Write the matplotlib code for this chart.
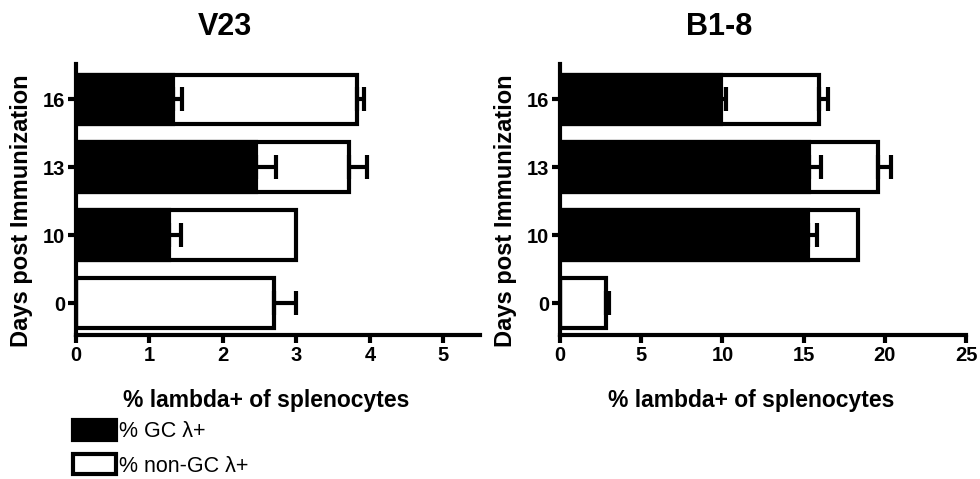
import matplotlib
matplotlib.use('Agg')
import matplotlib.pyplot as plt
from matplotlib.patches import Patch
import numpy as np

plt.rcParams['font.family'] = ['Liberation Sans', 'DejaVu Sans']

days = ['0', '10', '13', '16']

v23_gc = [0, 1.26, 2.45, 1.32]
v23_gc_err = [0, 0.17, 0.27, 0.12]
v23_total = [2.70, 3.00, 3.71, 3.82]
v23_total_err = [0.30, 0, 0.25, 0.10]

b18_gc = [0, 15.3, 15.35, 9.9]
b18_gc_err = [0, 0.5, 0.7, 0.35]
b18_total = [2.81, 18.37, 19.6, 15.97]
b18_total_err = [0.23, 0, 0.8, 0.53]

LW = 3.0


def panel(ax, gc, gc_err, total, total_err, xmax, xticks, title, title_x):
    y = np.arange(len(days))
    h = 0.73
    ax.barh(y, total, height=h, color='white', edgecolor='black', linewidth=LW, zorder=2)
    ax.barh(y, gc, height=h, color='black', edgecolor='black', linewidth=LW, zorder=3)
    for i in range(len(days)):
        if total_err[i] > 0:
            ax.errorbar(total[i], y[i], xerr=[[0], [total_err[i]]], fmt='none',
                        ecolor='black', elinewidth=LW, capsize=8.5, capthick=LW, zorder=4)
        if gc[i] > 0 and gc_err[i] > 0:
            ax.errorbar(gc[i], y[i], xerr=[[0], [gc_err[i]]], fmt='none',
                        ecolor='black', elinewidth=LW, capsize=8.5, capthick=LW, zorder=4)
    ax.set_xlim(0, xmax)
    ax.set_ylim(-0.47, 3.52)
    ax.set_xticks(xticks)
    ax.set_yticks(y)
    ax.set_yticklabels(days)
    for s in ['top', 'right']:
        ax.spines[s].set_visible(False)
    for s in ['left', 'bottom']:
        ax.spines[s].set_linewidth(LW)
    ax.tick_params(width=LW, length=6, labelsize=14.5, pad=2)
    for lab in ax.get_xticklabels() + ax.get_yticklabels():
        lab.set_fontweight('bold')
    ax.set_xlabel('% lambda+ of splenocytes', fontsize=16.5, fontweight='bold')
    ax.set_ylabel('Days post Immunization', fontsize=17, fontweight='bold')
    ax.xaxis.set_label_coords(0.47, -0.2)
    ax.yaxis.set_label_coords(-0.106, 0.46)
    fig.text(title_x, 1 - 27 / 479, title, fontsize=22, fontweight='bold',
             ha='center', va='center')


fig = plt.figure(figsize=(9.8, 4.79), dpi=100)
ax1 = fig.add_axes([76 / 980, 1 - 335 / 479, 404 / 980, 271 / 479])
ax2 = fig.add_axes([560 / 980, 1 - 335 / 479, 406 / 980, 271 / 479])

panel(ax1, v23_gc, v23_gc_err, v23_total, v23_total_err, 5.5, [0, 1, 2, 3, 4, 5], 'V23', 225 / 980)
panel(ax2, b18_gc, b18_gc_err, b18_total, b18_total_err, 25, [0, 5, 10, 15, 20, 25], 'B1-8', 719 / 980)

# legend
handles = [Patch(facecolor='black', edgecolor='black', linewidth=LW, label='% GC \u03bb+'),
           Patch(facecolor='white', edgecolor='black', linewidth=LW, label='% non-GC \u03bb+')]
fig.legend(handles=handles, loc='upper left', bbox_to_anchor=(58 / 980, 1 - 405 / 479),
           frameon=False, fontsize=15.5, handlelength=2.0, handleheight=1.05,
           handletextpad=0.15, labelspacing=0.55, borderpad=0.2)

fig.savefig('out.png', dpi=100)
